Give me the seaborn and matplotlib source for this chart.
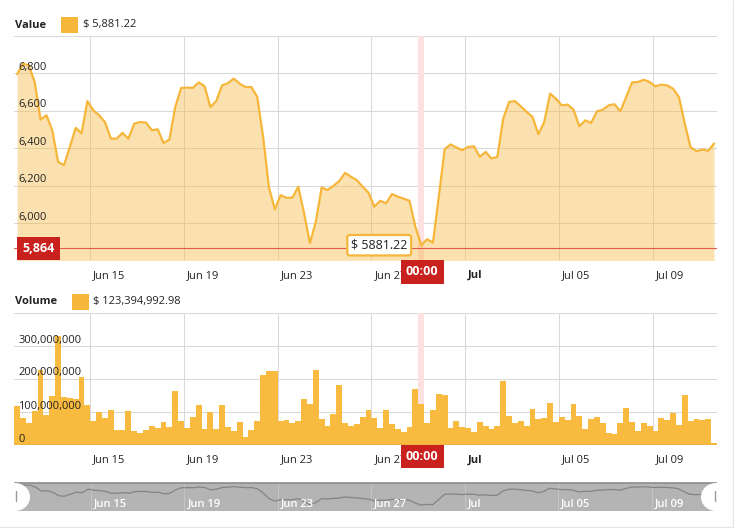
import numpy as np
import pandas as pd
import matplotlib
matplotlib.use("Agg")
import matplotlib.pyplot as plt
import matplotlib.dates as mdates
from matplotlib.patches import Rectangle, Ellipse
from matplotlib.lines import Line2D
import seaborn as sns

# 6-hour periods, points drawn at the middle of each period
start = "2018-06-11 21:00"

price = [6795, 6852, 6843, 6754, 6553, 6576, 6496, 6327, 6309, 6407,
         6509, 6479, 6652, 6603, 6576, 6540, 6451, 6451, 6482, 6451,
         6531, 6540, 6537, 6496, 6501, 6428, 6446, 6620, 6722, 6724,
         6722, 6752, 6732, 6620, 6652, 6736, 6748, 6772, 6745, 6727,
         6727, 6674, 6460, 6190, 6073, 6149, 6135, 6135, 6194, 6052,
         5892, 6007, 6190, 6176, 6199, 6224, 6268, 6247, 6229, 6194,
         6162, 6087, 6119, 6105, 6155, 6141, 6130, 6119, 5980, 5881.22,
         5913, 5895, 6141, 6395, 6420, 6404, 6389, 6407, 6410, 6354,
         6380, 6345, 6354, 6558, 6647, 6652, 6624, 6594, 6567, 6475,
         6540, 6692, 6665, 6629, 6633, 6606, 6517, 6549, 6535, 6597,
         6606, 6629, 6635, 6597, 6674, 6752, 6754, 6766, 6754, 6731,
         6740, 6736, 6718, 6674, 6531, 6404, 6384, 6393, 6386, 6425]

# volume in millions of dollars
volume_m = [118, 83, 68, 103, 227, 91, 148, 330, 145, 142,
            139, 206, 121, 74, 101, 81, 106, 45, 45, 103,
            42, 36, 46, 58, 53, 71, 56, 164, 74, 53,
            86, 121, 47, 99, 49, 121, 56, 43, 71, 25,
            45, 74, 212, 224, 224, 74, 76, 68, 74, 139,
            124, 227, 79, 58, 94, 182, 68, 58, 64, 84,
            106, 81, 53, 106, 63, 48, 40, 54, 170, 123.39499298,
            66, 106, 155, 152, 51, 73, 54, 51, 40, 69,
            59, 48, 59, 195, 88, 66, 73, 58, 109, 79,
            83, 128, 71, 84, 76, 124, 88, 48, 78, 84,
            66, 35, 32, 66, 111, 71, 43, 66, 58, 43,
            81, 76, 98, 61, 152, 74, 78, 76, 78, 7]

tick_dates = ["2018-06-15", "2018-06-19", "2018-06-23", "2018-06-27",
              "2018-07-01", "2018-07-05", "2018-07-09"]
tick_labels = ["Jun 15", "Jun 19", "Jun 23", "Jun 27", "Jul", "Jul 05", "Jul 09"]
bold_labels = ["Jul"]

price_ticks = [6000, 6200, 6400, 6600, 6800]
volume_ticks = [0, 100_000_000, 200_000_000, 300_000_000]

cursor_idx = 69
cursor_line = 5864
cursor_time = "00:00"

LINE = "#f6b63a"
BAR = "#f8ba3f"
RED = "#c9211e"
TXT = "#222222"

times = pd.date_range(start, periods=len(price), freq="6h")
t = mdates.date2num(times)
df = pd.DataFrame({"t": t, "price": price, "volume": np.array(volume_m) * 1e6})
edges = list(np.append(t - 0.125, t[-1] + 0.125))
ticks = mdates.date2num(pd.to_datetime(tick_dates))
xlim = (edges[0], edges[-1])
c = cursor_idx

sns.set_style("white")
plt.rcParams['font.family'] = ['Open Sans', 'DejaVu Sans']

W, H = 734, 528
fig = plt.figure(figsize=(W / 100, H / 100), dpi=100)


def px_axes(x0, y0, x1, y1):
    return fig.add_axes([x0 / W, 1 - y1 / H, (x1 - x0) / W, (y1 - y0) / H])


def ylab(ax, v, text):
    ax.annotate(text, xy=(0, v), xycoords=ax.get_yaxis_transform(),
                xytext=(4, 6), textcoords='offset pixels', ha='left', va='center',
                fontsize=8, color=TXT, zorder=6, annotation_clip=False)


def xlabs(ax, dy, color=TXT, weight=None):
    for x, lab in zip(ticks, tick_labels):
        w = weight or ('bold' if lab in bold_labels else 'normal')
        ax.annotate(lab, xy=(x, 0), xycoords=ax.get_xaxis_transform(),
                    xytext=(3, dy), textcoords='offset pixels', ha='left', va='center',
                    fontsize=8, color=color, fontweight=w, zorder=5, annotation_clip=False)


def redbox(ax, text, xy, xycoords, off):
    ax.annotate(text, xy=xy, xycoords=xycoords, xytext=off, textcoords='offset pixels',
                ha='center', va='center', fontsize=9, fontweight='bold', color='white',
                bbox=dict(boxstyle='square,pad=0.42', fc=RED, ec='none'),
                zorder=20, annotation_clip=False)


def style(ax, ylim, ystep):
    ax.set_xlim(xlim)
    ax.set_ylim(ylim)
    ax.set_xticks(ticks)
    ax.set_yticks(np.arange(ylim[0], ylim[1] + 1, ystep))
    ax.grid(True, color='#d9d9d9', lw=0.75)
    ax.set_axisbelow(True)
    ax.tick_params(length=0, labelbottom=False, labelleft=False)
    ax.set_xlabel('')
    ax.set_ylabel('')
    sns.despine(ax=ax, left=True, bottom=True)


# price panel
ax1 = px_axes(14.2, 36, 717, 260.4)
ax1.axvspan(t[c] - 0.125, t[c] + 0.125, color='#fbe1e1', lw=0, zorder=0.6)
ax1.fill_between(t, price, 5800, color=LINE, alpha=0.4, lw=0, zorder=1)
sns.lineplot(data=df, x='t', y='price', ax=ax1, color=LINE, lw=1.6, zorder=2)
ax1.axhline(cursor_line, color='#e25a4f', lw=0.8, zorder=3)
style(ax1, (5800, 7000), 200)
for v in price_ticks:
    ylab(ax1, v, f"{v:,}")
xlabs(ax1, -15)
redbox(ax1, f"{cursor_line:,}", (0, cursor_line), ax1.get_yaxis_transform(), (24.5, 0))
redbox(ax1, cursor_time, (t[c], 0), ax1.get_xaxis_transform(), (1, -11.5))
ax1.annotate(f"$ {price[c]}", xy=(t[c], price[c]), xytext=(-42, 0),
             textcoords='offset pixels', ha='center', va='center', fontsize=9, color=TXT,
             bbox=dict(boxstyle='round,pad=0.3,rounding_size=0.2', fc='white', ec=LINE, lw=1.6),
             zorder=20)

# volume panel
ax2 = px_axes(14.2, 313, 717, 445)
ax2.axvspan(t[c] - 0.125, t[c] + 0.125, color='#fbe1e1', lw=0, zorder=0.6)
sns.histplot(data=df, x='t', weights='volume', bins=edges, ax=ax2,
             color=BAR, alpha=1, linewidth=0, zorder=2)
ax2.axhline(0, color='#c99b3c', lw=1, zorder=3)
style(ax2, (0, 400_000_000), 100_000_000)
for v in volume_ticks:
    ylab(ax2, v, f"{v:,}")
xlabs(ax2, -15)
redbox(ax2, cursor_time, (t[c], 0), ax2.get_xaxis_transform(), (1, -11.5))

# scrollbar
ax3 = px_axes(15, 483, 716, 511)
ax3.set_facecolor('#b4b4b4')
sns.lineplot(data=df, x='t', y='price', ax=ax3, color='#848484', lw=0.9)
ax3.set_xlim(xlim)
ax3.set_ylim(5590, 6950)
ax3.set_xticks(ticks)
ax3.set_yticks([])
ax3.grid(True, axis='x', color='#c8c8c8', lw=0.6)
ax3.tick_params(length=0, labelbottom=False, labelleft=False)
ax3.set_xlabel('')
ax3.set_ylabel('')
for s in ['left', 'right', 'bottom']:
    ax3.spines[s].set_visible(False)
ax3.spines['top'].set_color('#8c8c8c')
ax3.spines['top'].set_linewidth(1.2)
xlabs(ax3, 7, color='white', weight='semibold')
for xa in [0, 1]:
    ax3.add_patch(Ellipse((xa, 0.5), 30 / 701, 1.0, transform=ax3.transAxes,
                          fc='white', ec='none', clip_on=False, zorder=8))
    gx = 0.002 if xa == 0 else 0.998
    ax3.plot([gx, gx], [0.35, 0.72], transform=ax3.transAxes, color='#9a9a9a',
             lw=1, clip_on=False, zorder=9)

# panel headers
fig.text(15 / W, 1 - 25 / H, "Value", fontsize=8, fontweight='bold', color=TXT, va='center')
fig.add_artist(Rectangle((61 / W, 1 - 33 / H), 16.5 / W, 16.5 / H,
                         transform=fig.transFigure, fc=LINE, ec='none'))
fig.text(83 / W, 1 - 25 / H, f"$ {price[c]:,.2f}", fontsize=8, color=TXT, va='center')

fig.text(15 / W, 1 - 301.5 / H, "Volume", fontsize=8, fontweight='bold', color=TXT, va='center')
fig.add_artist(Rectangle((72.3 / W, 1 - 310 / H), 16.5 / W, 16.5 / H,
                         transform=fig.transFigure, fc=LINE, ec='none'))
fig.text(93 / W, 1 - 301.5 / H, f"$ {volume_m[c] * 1e6:,.2f}", fontsize=8, color=TXT, va='center')

# outer frame lines
fig.add_artist(Line2D([733 / W, 733 / W], [1.5 / H, 1], color='#e6e6e6', lw=1))
fig.add_artist(Line2D([0, 733 / W], [1.5 / H, 1.5 / H], color='#e6e6e6', lw=1))

fig.savefig("out.png", dpi=100)
plt.close()
